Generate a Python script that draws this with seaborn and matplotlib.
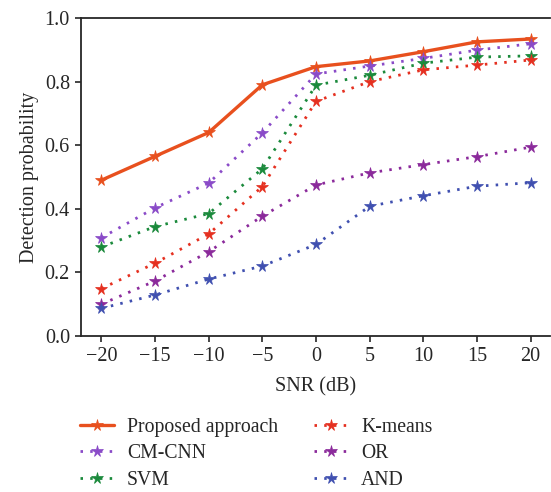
import matplotlib
matplotlib.use("Agg")
import matplotlib.pyplot as plt
import seaborn as sns
import pandas as pd

snr = [-20, -15, -10, -5, 0, 5, 10, 15, 20]
proposed = [0.49, 0.565, 0.64, 0.79, 0.847, 0.865, 0.894, 0.925, 0.934]
cm_cnn = [0.309, 0.403, 0.481, 0.639, 0.824, 0.849, 0.873, 0.899, 0.919]
svm = [0.28, 0.344, 0.385, 0.526, 0.789, 0.82, 0.858, 0.877, 0.881]
kmeans = [0.149, 0.229, 0.321, 0.47, 0.738, 0.80, 0.837, 0.852, 0.868]
or_rule = [0.10, 0.173, 0.265, 0.377, 0.475, 0.513, 0.539, 0.564, 0.594]
and_rule = [0.087, 0.129, 0.179, 0.22, 0.288, 0.408, 0.441, 0.471, 0.482]

names = ["Proposed approach", "CM-CNN", "SVM", "K-means", "OR", "AND"]
series = [proposed, cm_cnn, svm, kmeans, or_rule, and_rule]
colors = ["#E8501E", "#8A4BC8", "#1B8A3C", "#E53020", "#8B2A9B", "#4050B0"]

rows = []
for n, vals in zip(names, series):
    for s, v in zip(snr, vals):
        rows.append({"SNR": s, "Pd": v, "Method": n})
df = pd.DataFrame(rows)

sns.set_style("ticks")
plt.rcParams["font.family"] = ["Liberation Serif", "DejaVu Serif"]

fig = plt.figure(figsize=(5.51, 4.92), dpi=100)
ax = fig.add_axes([81/551, 1 - 336/492, (550-81)/551, (336-18)/492])

for n, c in zip(names, colors):
    sub = df[df["Method"] == n]
    if n == "Proposed approach":
        sns.lineplot(data=sub, x="SNR", y="Pd", ax=ax, color=c, lw=2.4,
                     marker="*", markersize=8.5, markeredgewidth=0.5,
                     markeredgecolor=c, label=n)
    else:
        sns.lineplot(data=sub, x="SNR", y="Pd", ax=ax, color=c, lw=2.0,
                     linestyle=(0, (0.9, 2.6)), marker="*", markersize=8.5,
                     markeredgewidth=0.5, markeredgecolor=c, label=n)

ax.set_xlim(-21.9, 21.8)
ax.set_ylim(0, 1.0)
ax.set_xticks(snr)
ax.set_xticklabels([("\u2212" + str(-s)) if s < 0 else str(s) for s in snr])
ax.set_yticks([0, 0.2, 0.4, 0.6, 0.8, 1.0])
ax.set_yticklabels(["0.0", "0.2", "0.4", "0.6", "0.8", "1.0"])
ax.tick_params(labelsize=14.5, direction="out", length=4, width=1.2, pad=4)
ax.set_xlabel("SNR (dB)", fontsize=14.5, labelpad=8)
ax.set_ylabel("Detection probability", fontsize=14.5, labelpad=4)
for sp in ["left", "bottom", "top"]:
    ax.spines[sp].set_linewidth(1.3)
ax.spines["right"].set_visible(False)

ax.legend_.remove()
handles, labels = ax.get_legend_handles_labels()
fig.legend(handles, labels, loc="upper left", bbox_to_anchor=(62/551, 1 - 400/492),
           ncol=2, frameon=False, fontsize=14.2, handlelength=1.75,
           columnspacing=1.8, labelspacing=0.38, handletextpad=0.65)

fig.savefig("out.png", dpi=100)
